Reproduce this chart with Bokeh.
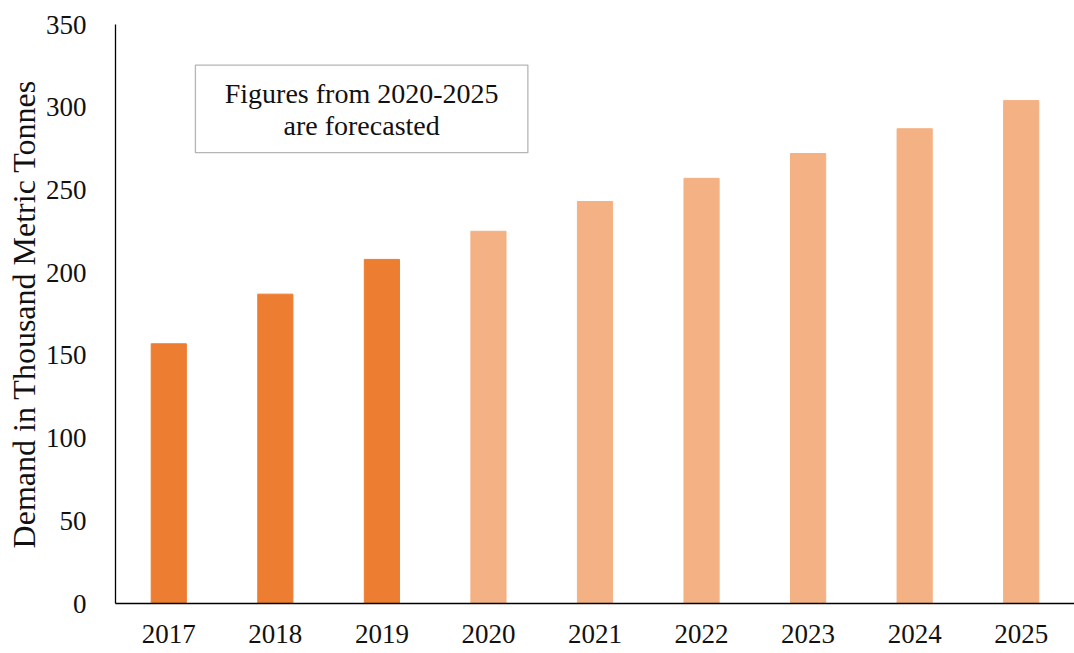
from bokeh.plotting import figure
from bokeh.models import ColumnDataSource, Range1d, FixedTicker, BoxAnnotation
from bokeh.core.properties import value
from bokeh.embed import file_html
from bokeh.resources import INLINE

# ---- data ----
years = ["2017", "2018", "2019", "2020", "2021", "2022", "2023", "2024", "2025"]
demand = [157, 187, 208, 225, 243, 257, 272, 287, 304]
forecast_from = "2020"
y_ticks = [0, 50, 100, 150, 200, 250, 300, 350]
note_lines = ["Figures from 2020-2025", "are forecasted"]

ACTUAL = "#ED7D31"
FORECAST = "#F4B183"
FONT = "Liberation Serif"

idx = list(range(len(years)))
colors = [FORECAST if y >= forecast_from else ACTUAL for y in years]
src = ColumnDataSource(dict(x=idx, top=demand, year=years, color=colors))

p = figure(width=1074, height=653, output_backend="svg", toolbar_location=None,
           x_range=Range1d(-0.5, len(years) - 0.5), y_range=Range1d(0, 350),
           min_border_left=115, min_border_right=0, min_border_top=24, min_border_bottom=50)

p.vbar(x="x", top="top", width=0.33, color="color", source=src)

p.outline_line_color = None
p.xgrid.visible = False
p.ygrid.visible = False
p.background_fill_color = "white"
p.border_fill_color = "white"

xa = p.xaxis[0]
xa.ticker = FixedTicker(ticks=idx)
xa.major_label_overrides = {i: y for i, y in zip(idx, years)}
ya = p.yaxis[0]
ya.ticker = FixedTicker(ticks=y_ticks)
ya.axis_label = "Demand in Thousand Metric Tonnes"

for ax in (xa, ya):
    ax.axis_line_color = "black"
    ax.axis_line_width = 1.3
    ax.major_tick_line_color = None
    ax.minor_tick_line_color = None
    ax.major_label_text_font = FONT
    ax.major_label_text_font_size = "27px"
    ax.major_label_text_color = "#111111"
    ax.axis_label_text_font = FONT
    ax.axis_label_text_font_size = "32px"
    ax.axis_label_text_font_style = "normal"
    ax.axis_label_text_color = "#111111"

xa.major_label_standoff = 15
ya.major_label_standoff = 23
ya.axis_label_standoff = 1

# annotation box (drawn beneath the note text)
box = BoxAnnotation(left=0.25, right=3.37, bottom=272.5, top=325.5,
                    fill_color="white", fill_alpha=1.0,
                    line_color="#b5b5b5", line_alpha=1.0, line_width=1.3,
                    level="underlay")
p.add_layout(box)
p.text(x=[1.81, 1.81], y=[308.5, 289], text=note_lines,
       text_font=value(FONT), text_font_size="28px", text_color="#111111",
       text_align="center", text_baseline="middle")

open("out.html", "w").write(file_html(p, INLINE))
